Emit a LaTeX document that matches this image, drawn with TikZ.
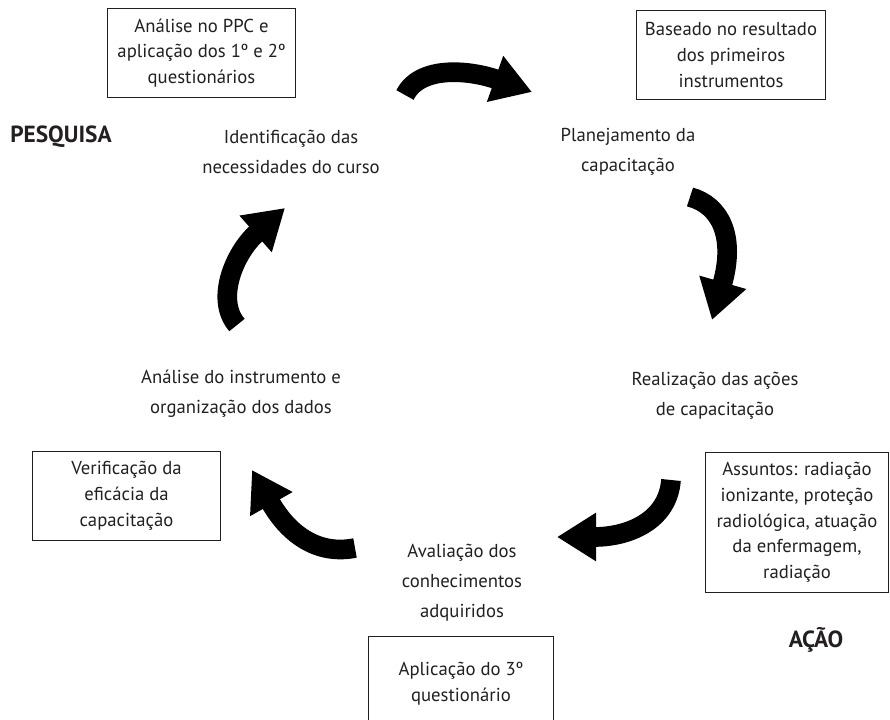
\documentclass[tikz,border=0pt]{standalone}
\usepackage{fontspec}
\setmainfont{PT Sans}
\usetikzlibrary{arrows.meta}
\definecolor{texto}{HTML}{231F20}
\begin{document}
\begin{tikzpicture}[x=0.025cm,y=-0.025cm,
    etapa/.style={align=center,text=texto,font=\fontsize{13.3}{21.3}\selectfont},
    caixa/.style={draw=texto,line width=0.7pt,align=center,text=texto,
        font=\fontsize{13.3}{18.3}\selectfont,minimum width=4.72cm,minimum height=2.2cm},
    titulo/.style={text=texto,font=\fontsize{16.6}{18}\selectfont\bfseries},
    seta/.style={line width=14pt,-{Triangle[length=0.98cm,width=1.15cm]}}]
    \clip (0,0) rectangle (890,720);

    % Pesquisa
    \node[titulo] (pesq) at (61,137) {PESQUISA};
    \node[caixa] (boxppc) at (201.5,53) {Análise no PPC e\\aplicação dos 1º e 2º\\questionários};
    \node[etapa] (ident) at (291,152) {Identificação das\\necessidades do curso};

    % Planejamento
    \node[caixa] (boxbase) at (731,55) {Baseado no resultado\\dos primeiros\\instrumentos};
    \node[etapa] (plan) at (628,152) {Planejamento da\\capacitação};

    % Acao
    \node[etapa] (real) at (715,396) {Realização das ações\\de capacitação};
    \node[caixa,minimum width=4.58cm,minimum height=3.52cm] (boxassu) at (797,522.5)
        {Assuntos: radiação\\ionizante, proteção\\radiológica, atuação\\da enfermagem,\\radiação};
    \node[titulo] (acao) at (816,640) {AÇÃO};

    % Avaliacao
    \node[etapa] (aval) at (462,583) {Avaliação dos\\conhecimentos\\adquiridos};
    \node[caixa,minimum width=4.6cm,minimum height=2.35cm] (boxapl) at (461,684)
        {Aplicação do 3º\\questionário};

    % Analise
    \node[caixa] (boxveri) at (126.5,496) {Verificação da\\eficácia da\\capacitação};
    \node[etapa] (anal) at (241,394) {Análise do instrumento e\\organização dos dados};

    % Setas
    \coordinate (a1s) at (405,95);  \coordinate (a1e) at (532,92);
    \coordinate (a2s) at (690,197); \coordinate (a2e) at (712,320);
    \coordinate (a3s) at (671,480); \coordinate (a3e) at (557,537);
    \coordinate (a4s) at (355,548); \coordinate (a4e) at (252,470);
    \coordinate (a5s) at (237,325); \coordinate (a5e) at (285,208);
    \draw[seta] (a1s) .. controls (420,65) and (470,70) .. (a1e);
    \draw[seta] (a2s) .. controls (720,205) and (736,236) .. (a2e);
    \draw[seta] (a3s) .. controls (668,520) and (630,537) .. (a3e);
    \draw[seta] (a4s) .. controls (320,555) and (290,537) .. (a4e);
    \draw[seta] (a5s) .. controls (215,300) and (234,253) .. (a5e);
\end{tikzpicture}
\end{document}
